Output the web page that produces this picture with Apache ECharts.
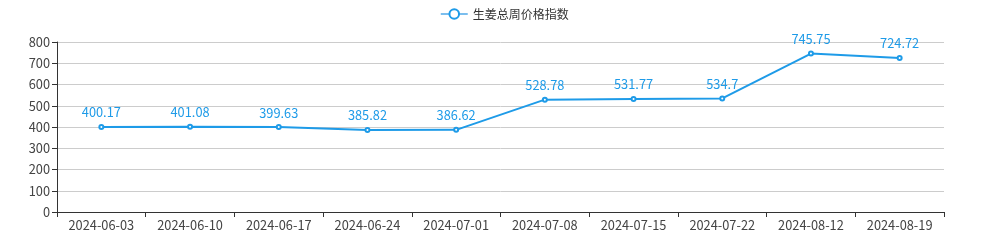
<!DOCTYPE html>
<html><head><meta charset="utf-8">
<script src="https://cdn.jsdelivr.net/npm/echarts@6/dist/echarts.min.js"></script>
<style>html,body{margin:0;padding:0;background:#fff}#c{width:1006px;height:243px}</style>
</head><body><div id="c"></div>
<script>
var categories = ['2024-06-03','2024-06-10','2024-06-17','2024-06-24','2024-07-01','2024-07-08','2024-07-15','2024-07-22','2024-08-12','2024-08-19'];
var values = [400.17,401.08,399.63,385.82,386.62,528.78,531.77,534.7,745.75,724.72];
var seriesName = '生姜总周价格指数';
var chart = echarts.init(document.getElementById('c'));
chart.setOption({
  animation:false,
  textStyle:{fontFamily:'"Noto Sans CJK SC", sans-serif'},
  legend:{top:3,left:435,data:[seriesName],itemWidth:27,itemHeight:12,itemGap:6,
    itemStyle:{borderWidth:1},
    lineStyle:{width:1.5,color:'#4FA8E8'},
    textStyle:{fontSize:12,color:'#333'}},
  grid:{left:57,right:62,top:42,bottom:31},
  xAxis:{type:'category',data:categories,boundaryGap:true,
    axisLine:{lineStyle:{color:'#333'}},axisTick:{show:true,lineStyle:{color:'#333'}},
    axisLabel:{color:'#444',fontSize:12.8,margin:7}},
  yAxis:{type:'value',min:0,max:800,interval:100,
    axisLine:{show:true,lineStyle:{color:'#333'}},axisTick:{show:true,lineStyle:{color:'#333'}},
    axisLabel:{color:'#444',fontSize:12.8,margin:7},
    splitLine:{lineStyle:{color:'#ccc'}}},
  series:[{name:seriesName,type:'line',data:values,symbol:'emptyCircle',symbolSize:4,
    itemStyle:{color:'#1E9BE8'},lineStyle:{width:2,color:'#1E9BE8'},
    label:{show:true,position:'top',distance:5,color:'#1E9BE8',fontSize:12.8}}]
});
</script></body></html>
